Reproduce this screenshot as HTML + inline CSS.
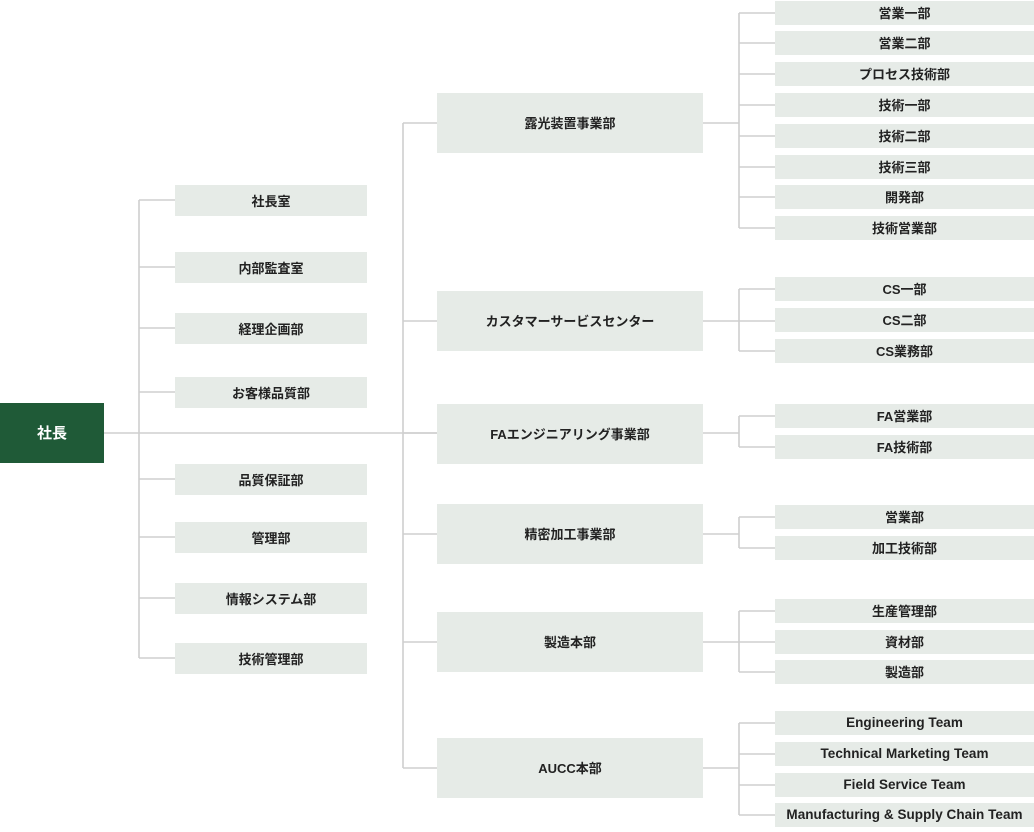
<!DOCTYPE html>
<html><head><meta charset="utf-8"><style>
body{margin:0;width:1034px;height:832px;background:#fff;position:relative;overflow:hidden;font-family:"Liberation Sans","Noto Sans CJK JP",sans-serif;}
.b{position:absolute;background:#e6ebe7;color:#222;font-size:13px;font-weight:bold;display:flex;align-items:center;justify-content:center;white-space:nowrap;padding-bottom:1px;box-sizing:border-box;}
.e{font-size:13.5px;letter-spacing:0.05px}
svg{position:absolute;left:0;top:0}
</style></head><body>
<svg width="1034" height="832"><g stroke="#cfcfcf" stroke-width="1.6" fill="none">
<path d="M104 433H437M139 200V658M139 200H175M139 267H175M139 328H175M139 392H175M139 479H175M139 537H175M139 598H175M139 658H175"/>
<path d="M403 123V768M403 123H437M403 321H437M403 433H437M403 534H437M403 642H437M403 768H437"/>
<path d="M703 123H739M739 13V228M739 13H775M739 43H775M739 74H775M739 105H775M739 136H775M739 167H775M739 197H775M739 228H775"/>
<path d="M703 321H775M739 289V351M739 289H775M739 351H775"/>
<path d="M703 433H739M739 416V447M739 416H775M739 447H775"/>
<path d="M703 534H739M739 517V548M739 517H775M739 548H775"/>
<path d="M703 642H775M739 611V672M739 611H775M739 672H775"/>
<path d="M703 768H739M739 723V815M739 723H775M739 754H775M739 785H775M739 815H775"/>
</g></svg>
<div class="b" style="left:0;top:403px;width:104px;height:60px;background:#1f5a37;color:#fff;font-size:15px">社長</div>
<div class="b" style="left:175px;top:185px;width:192px;height:31px">社長室</div>
<div class="b" style="left:175px;top:252px;width:192px;height:31px">内部監査室</div>
<div class="b" style="left:175px;top:313px;width:192px;height:31px">経理企画部</div>
<div class="b" style="left:175px;top:377px;width:192px;height:31px">お客様品質部</div>
<div class="b" style="left:175px;top:464px;width:192px;height:31px">品質保証部</div>
<div class="b" style="left:175px;top:522px;width:192px;height:31px">管理部</div>
<div class="b" style="left:175px;top:583px;width:192px;height:31px">情報システム部</div>
<div class="b" style="left:175px;top:643px;width:192px;height:31px">技術管理部</div>
<div class="b" style="left:437px;top:93px;width:266px;height:60px">露光装置事業部</div>
<div class="b" style="left:437px;top:291px;width:266px;height:60px">カスタマーサービスセンター</div>
<div class="b" style="left:437px;top:404px;width:266px;height:60px">FAエンジニアリング事業部</div>
<div class="b" style="left:437px;top:504px;width:266px;height:60px">精密加工事業部</div>
<div class="b" style="left:437px;top:612px;width:266px;height:60px">製造本部</div>
<div class="b" style="left:437px;top:738px;width:266px;height:60px">AUCC本部</div>
<div class="b" style="left:775px;top:1px;width:259px;height:24px">営業一部</div>
<div class="b" style="left:775px;top:31px;width:259px;height:24px">営業二部</div>
<div class="b" style="left:775px;top:62px;width:259px;height:24px">プロセス技術部</div>
<div class="b" style="left:775px;top:93px;width:259px;height:24px">技術一部</div>
<div class="b" style="left:775px;top:124px;width:259px;height:24px">技術二部</div>
<div class="b" style="left:775px;top:155px;width:259px;height:24px">技術三部</div>
<div class="b" style="left:775px;top:185px;width:259px;height:24px">開発部</div>
<div class="b" style="left:775px;top:216px;width:259px;height:24px">技術営業部</div>
<div class="b" style="left:775px;top:277px;width:259px;height:24px">CS一部</div>
<div class="b" style="left:775px;top:308px;width:259px;height:24px">CS二部</div>
<div class="b" style="left:775px;top:339px;width:259px;height:24px">CS業務部</div>
<div class="b" style="left:775px;top:404px;width:259px;height:24px">FA営業部</div>
<div class="b" style="left:775px;top:435px;width:259px;height:24px">FA技術部</div>
<div class="b" style="left:775px;top:505px;width:259px;height:24px">営業部</div>
<div class="b" style="left:775px;top:536px;width:259px;height:24px">加工技術部</div>
<div class="b" style="left:775px;top:599px;width:259px;height:24px">生産管理部</div>
<div class="b" style="left:775px;top:630px;width:259px;height:24px">資材部</div>
<div class="b" style="left:775px;top:660px;width:259px;height:24px">製造部</div>
<div class="b e" style="left:775px;top:711px;width:259px;height:24px">Engineering Team</div>
<div class="b e" style="left:775px;top:742px;width:259px;height:24px">Technical Marketing Team</div>
<div class="b e" style="left:775px;top:773px;width:259px;height:24px">Field Service Team</div>
<div class="b e" style="left:775px;top:803px;width:259px;height:24px">Manufacturing &amp; Supply Chain Team</div>
</body></html>
